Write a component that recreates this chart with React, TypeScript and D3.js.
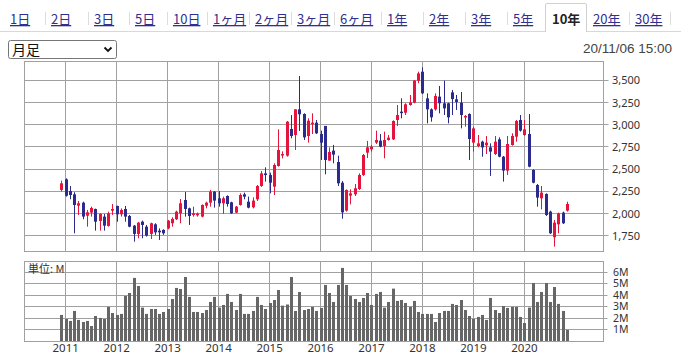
import * as d3 from 'd3';
import { useEffect, useRef } from 'react';

// monthly candles, Dec 2010 .. Nov 2020 (index 0 = Dec 2010)
const openVals = [2265, 2385, 2253, 2216, 2088, 2122, 1975, 2010, 2051, 1916, 1965, 1860, 2032,
  2085, 1991, 2051, 1972, 1863, 1770, 1908, 1852, 1770, 1878, 1807, 1815,
  1833, 1890, 1935, 2002, 2152, 2058, 1983, 1980, 1965, 2088, 2122, 2246,
  2171, 2115, 2197, 2126, 2010, 2096, 2216, 2133, 2070, 2160, 2310, 2452,
  2433, 2302, 2535, 2660, 2651, 2952, 2884, 3173, 3121, 2873, 3015, 3023,
  2895, 2986, 2595, 2708, 2580, 2347, 2032, 2201, 2216, 2276, 2434, 2685,
  2723, 2798, 2820, 2760, 2828, 2835, 3053, 3147, 3135, 3222, 3248, 3496,
  3597, 3297, 3173, 3173, 3316, 3241, 3241, 3364, 3286, 3248, 3083, 3120,
  2798, 2760, 2809, 2768, 2745, 2670, 2835, 2640, 2483, 2771, 2865, 3053,
  2884, 2895, 2490, 2321, 2171, 2220, 2021, 1732, 1878, 2010, 2032];
const closeVals = [2340, 2200, 2208, 2096, 2115, 1965, 2013, 2062, 1908, 1995, 1863, 2002, 2051,
  1991, 2040, 1965, 1852, 1770, 1897, 1871, 1751, 1890, 1788, 1788, 1777,
  1920, 1939, 2021, 2115, 2051, 1972, 2002, 2000, 2096, 2122, 2246, 2145,
  2115, 2171, 2107, 2002, 2077, 2208, 2190, 2066, 2145, 2310, 2452, 2433,
  2347, 2546, 2715, 2670, 3034, 2873, 3173, 3117, 2858, 3045, 3023, 2903,
  2798, 2603, 2693, 2663, 2340, 2013, 2265, 2227, 2284, 2434, 2659, 2745,
  2753, 2828, 2753, 2828, 2854, 3042, 3109, 3135, 3230, 3252, 3496, 3578,
  3353, 3173, 3083, 3323, 3241, 3184, 3083, 3289, 3256, 3109, 3098, 2839,
  2959, 2790, 2745, 2798, 2697, 2809, 2640, 2483, 2783, 2873, 3042, 2933,
  2948, 2527, 2347, 2179, 2235, 1983, 1777, 1897, 2002, 1890, 2107];
const highVals = [2370, 2396, 2310, 2240, 2141, 2133, 2040, 2077, 2055, 2002, 1995, 2021, 2107,
  2088, 2058, 2085, 1983, 1871, 1905, 1920, 1871, 1897, 1890, 1833, 1822,
  1927, 1957, 2032, 2163, 2242, 2066, 2077, 2010, 2103, 2133, 2265, 2253,
  2253, 2190, 2205, 2133, 2085, 2227, 2235, 2190, 2182, 2321, 2479, 2520,
  2460, 2565, 2948, 2700, 3042, 3109, 3173, 3548, 3128, 3072, 3128, 3053,
  2933, 2986, 2745, 2772, 2651, 2366, 2272, 2272, 2332, 2452, 2670, 2817,
  2772, 2933, 2895, 2922, 2884, 3049, 3222, 3297, 3241, 3335, 3503, 3597,
  3646, 3353, 3184, 3353, 3436, 3496, 3248, 3391, 3335, 3368, 3109, 3128,
  2978, 2884, 2820, 2873, 2790, 2873, 2858, 2648, 2873, 2903, 3053, 3109,
  3053, 3120, 2498, 2332, 2310, 2227, 2032, 1927, 2010, 2021, 2133];
const lowVals = [2247, 2190, 2160, 1777, 1983, 1935, 1852, 1965, 1807, 1807, 1807, 1852, 1983,
  1908, 1965, 1908, 1845, 1683, 1721, 1721, 1740, 1713, 1759, 1702, 1759,
  1822, 1852, 1927, 1890, 1965, 1871, 1965, 1965, 1957, 2058, 2077, 2066,
  2077, 1995, 2077, 1995, 2002, 2088, 2160, 2058, 2058, 2141, 2300, 2359,
  2227, 2208, 2528, 2620, 2640, 2847, 2715, 2929, 2828, 2798, 2895, 2895,
  2603, 2441, 2595, 2565, 2310, 1942, 2021, 2103, 2197, 2265, 2423, 2625,
  2697, 2783, 2745, 2622, 2820, 2828, 2985, 3072, 3109, 3214, 3241, 3466,
  3346, 3015, 3034, 3158, 3128, 3109, 3015, 3109, 3166, 2959, 2978, 2603,
  2696, 2745, 2640, 2670, 2423, 2659, 2633, 2359, 2434, 2764, 2809, 2922,
  2873, 2520, 2340, 2077, 2047, 1972, 1770, 1627, 1777, 1882, 2021];
// volume in millions of shares
const volumeVals = [2.29, 1.94, 1.77, 2.64, 1.86, 1.68, 1.77, 1.33, 2.2, 2.03, 1.94, 2.99, 2.46,
  2.29, 2.38, 3.94, 4.2, 5.51, 4.81, 2.93, 2.38, 2.81, 2.81, 2.38, 2.55,
  2.81, 3.68, 4.64, 4.55, 5.59, 3.86, 2.55, 2.55, 2.46, 2.72, 3.42, 3.86,
  2.93, 3.16, 4.12, 3.42, 2.72, 4.12, 2.38, 2.38, 2.64, 3.86, 3.16, 2.81,
  3.33, 3.59, 4.46, 3.1, 3.2, 5.59, 2.64, 4.29, 2.72, 2.81, 2.99, 2.64,
  2.9, 4.9, 4.2, 3.42, 4.9, 6.38, 4.9, 3.94, 3.68, 3.42, 3.77, 4.2,
  3.16, 4.12, 4.29, 2.93, 3.42, 4.58, 3.51, 3.59, 3.33, 2.99, 3.51, 2.55,
  2.38, 2.38, 2.38, 1.68, 2.46, 2.64, 2.64, 3.25, 3.16, 3.59, 2.72, 2.2,
  1.94, 2.12, 2.29, 1.86, 3.77, 2.72, 2.46, 3.07, 2.9, 2.99, 2.99, 2.12,
  1.59, 2.93, 5.07, 3.42, 4.29, 5.07, 3.42, 4.72, 3.25, 2.64, 0.99];

const yearLabels = ['2011', '2012', '2013', '2014', '2015', '2016', '2017', '2018', '2019', '2020'];
const priceTicks = [1750, 2000, 2250, 2500, 2750, 3000, 3250, 3500];
const volumeTicks = [1, 2, 3, 4, 5, 6];
const tabLabels = ['1日', '2日', '3日', '5日', '10日', '1ヶ月', '2ヶ月', '3ヶ月', '6ヶ月',
  '1年', '2年', '3年', '5年', '10年', '20年', '30年'];
const activeTab = '10年';
const periodLabel = '月足';
const stampLabel = '20/11/06 15:00';

const W = 681;
const H = 355;
const UP = '#e5143c';
const DOWN = '#2b2b8e';
const GRID = '#a0a0a0';

const App = () => {
  const ref = useRef(null);

  useEffect(() => {
    const svg = d3.select(ref.current);
    svg.selectAll('*').remove();

    const jp = '"Noto Sans CJK JP", "Noto Sans", sans-serif';
    const ui = '"Noto Sans", "Noto Sans CJK JP", sans-serif';

    // ---- tab row
    const tabX = [10, 51, 94, 135, 173, 213, 255, 297, 340, 387, 429, 471, 513, 552, 593, 635];
    svg.append('line')
      .attr('x1', 0).attr('x2', W).attr('y1', 31.5).attr('y2', 31.5)
      .attr('stroke', '#d8d8d8');
    svg.append('path')
      .attr('d', 'M545.5,32 V5 Q545.5,3.5 547,3.5 H585 Q586.5,3.5 586.5,5 V32')
      .attr('fill', '#fff').attr('stroke', '#d0d0d0');
    svg.append('rect').attr('x', 546).attr('y', 30).attr('width', 40).attr('height', 3).attr('fill', '#fff');
    tabLabels.forEach((t, i) => {
      const active = t === activeTab;
      svg.append('text')
        .attr('x', tabX[i]).attr('y', 24)
        .attr('font-family', jp)
        .attr('font-size', 13)
        .attr('font-weight', active ? 'bold' : 'normal')
        .attr('fill', active ? '#222' : '#2f2f8f')
        .attr('text-decoration', active ? 'none' : 'underline')
        .text(t);
      if (i < tabLabels.length - 1 && !active && tabLabels[i + 1] !== activeTab) {
        const sx = (tabX[i + 1] - 6);
        svg.append('line')
          .attr('x1', sx + 0.5).attr('x2', sx + 0.5).attr('y1', 12).attr('y2', 25)
          .attr('stroke', '#dcdcdc');
      }
    });
    svg.append('line')
      .attr('x1', 670.5).attr('x2', 670.5).attr('y1', 12).attr('y2', 25)
      .attr('stroke', '#dcdcdc');

    // ---- select box + time stamp
    svg.append('rect')
      .attr('x', 8.5).attr('y', 40.5).attr('width', 108).attr('height', 18).attr('rx', 2)
      .attr('fill', '#fff').attr('stroke', '#767676');
    svg.append('text')
      .attr('x', 12).attr('y', 55)
      .attr('font-family', jp).attr('font-size', 14).attr('fill', '#111')
      .text(periodLabel);
    svg.append('path')
      .attr('d', 'M104.5,47.5 L108,51 L111.5,47.5')
      .attr('fill', 'none').attr('stroke', '#111').attr('stroke-width', 1.8);
    svg.append('text')
      .attr('x', 672).attr('y', 53).attr('text-anchor', 'end')
      .attr('font-family', '"Liberation Sans", Arial, sans-serif').attr('font-size', 13.5).attr('fill', '#444')
      .text(stampLabel);

    // ---- scales
    const left = 24.5;
    const right = 603.5;
    const mainTop = 61.5;
    const mainBottom = 251.5;
    const volTop = 261.5;
    const volBottom = 341.5;

    // month index: 0 = Dec 2010, 1 = Jan 2011
    const x = d3.scaleLinear().domain([1, 109]).range([65.7, 524.4]);
    const y = d3.scaleLinear().domain([1750, 3500]).range([235.7, 80.3]);
    const yv = d3.scaleLinear().domain([0, 6]).range([341.3, 272.3]);
    const crisp = v => Math.round(v - 0.5) + 0.5;

    // ---- main panel grid
    const main = svg.append('g');
    main.selectAll('line.h')
      .data(priceTicks)
      .enter().append('line')
      .attr('x1', left).attr('x2', right + 5)
      .attr('y1', d => crisp(y(d))).attr('y2', d => crisp(y(d)))
      .attr('stroke', GRID);
    main.selectAll('line.v')
      .data(yearLabels)
      .enter().append('line')
      .attr('x1', (d, i) => crisp(x(1 + i * 12))).attr('x2', (d, i) => crisp(x(1 + i * 12)))
      .attr('y1', mainTop).attr('y2', mainBottom)
      .attr('stroke', GRID);
    main.append('rect')
      .attr('x', left).attr('y', mainTop).attr('width', right - left).attr('height', mainBottom - mainTop)
      .attr('fill', 'none').attr('stroke', GRID);
    main.selectAll('text.p')
      .data(priceTicks)
      .enter().append('text')
      .attr('x', 612).attr('y', d => y(d) + 4)
      .attr('font-family', ui).attr('font-size', 11).attr('fill', '#333')
      .text(d => d3.format(',')(d));

    // ---- candles
    const candles = openVals.map((o, i) => ({
      i, o, c: closeVals[i], h: highVals[i], l: lowVals[i]
    }));
    const cg = svg.append('g');
    cg.selectAll('line.wick')
      .data(candles)
      .enter().append('line')
      .attr('x1', d => Math.round(x(d.i)) + 0.5).attr('x2', d => Math.round(x(d.i)) + 0.5)
      .attr('y1', d => y(d.h)).attr('y2', d => y(d.l))
      .attr('stroke', d => (d.c >= d.o ? UP : DOWN))
      .attr('stroke-width', 1);
    cg.selectAll('rect.body')
      .data(candles)
      .enter().append('rect')
      .attr('x', d => Math.round(x(d.i)) - 1)
      .attr('y', d => y(Math.max(d.o, d.c)))
      .attr('width', 3)
      .attr('height', d => Math.max(1.5, Math.abs(y(d.o) - y(d.c))))
      .attr('fill', d => (d.c >= d.o ? UP : DOWN));

    // ---- volume panel
    const vol = svg.append('g');
    vol.selectAll('line.h')
      .data(volumeTicks)
      .enter().append('line')
      .attr('x1', left).attr('x2', right + 4)
      .attr('y1', d => crisp(yv(d))).attr('y2', d => crisp(yv(d)))
      .attr('stroke', GRID);
    vol.selectAll('line.v')
      .data(yearLabels)
      .enter().append('line')
      .attr('x1', (d, i) => crisp(x(1 + i * 12))).attr('x2', (d, i) => crisp(x(1 + i * 12)))
      .attr('y1', volTop).attr('y2', volBottom)
      .attr('stroke', GRID);
    vol.selectAll('rect.bar')
      .data(volumeVals)
      .enter().append('rect')
      .attr('x', (d, i) => Math.round(x(i)) - 1)
      .attr('y', d => yv(d))
      .attr('width', 3)
      .attr('height', d => yv(0) - yv(d))
      .attr('fill', '#666');
    vol.append('rect')
      .attr('x', left).attr('y', volTop).attr('width', right - left).attr('height', volBottom - volTop)
      .attr('fill', 'none').attr('stroke', GRID);
    vol.append('text')
      .attr('x', 28).attr('y', 273)
      .attr('font-family', jp).attr('font-size', 11).attr('fill', '#333')
      .text('単位: M');
    vol.selectAll('text.v')
      .data(volumeTicks)
      .enter().append('text')
      .attr('x', 613).attr('y', d => yv(d) + 3.5)
      .attr('font-family', ui).attr('font-size', 10.5).attr('fill', '#333')
      .text(d => `${d}M`);
    vol.selectAll('text.yr')
      .data(yearLabels)
      .enter().append('text')
      .attr('x', (d, i) => x(1 + i * 12)).attr('y', 352)
      .attr('text-anchor', 'middle')
      .attr('font-family', ui).attr('font-size', 11.5).attr('fill', '#333')
      .text(d => d);
  }, []);

  return (
    <div style={{ position: 'fixed', left: 0, top: 0, width: W, height: H, background: '#fff' }}>
      <svg ref={ref} width={W} height={H} style={{ display: 'block' }}></svg>
    </div>
  );
};

export default App;
